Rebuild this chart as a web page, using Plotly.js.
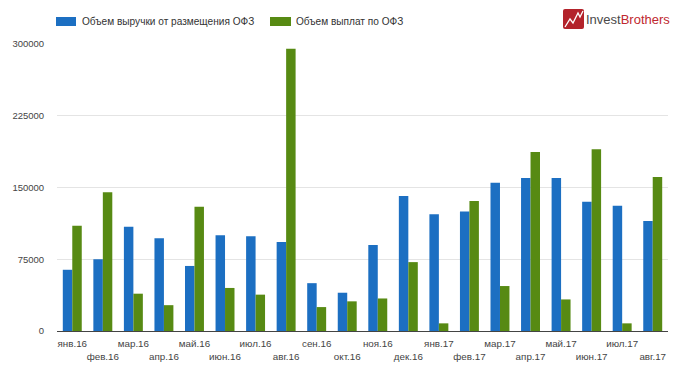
<!DOCTYPE html>
<html>
<head>
<meta charset="utf-8">
<script src="https://cdn.plot.ly/plotly-3.0.1.min.js"></script>
<style>html,body{margin:0;padding:0;background:#fff;}#chart{width:680px;height:373px;}</style>
</head>
<body>
<div id="chart"></div>
<script>
const months = ["янв.16","фев.16","мар.16","апр.16","май.16","июн.16","июл.16","авг.16","сен.16","окт.16","ноя.16","дек.16","янв.17","фев.17","мар.17","апр.17","май.17","июн.17","июл.17","авг.17"];
const revenue = [64000,75000,109000,97000,68000,100000,99000,93000,50000,40000,90000,141000,122000,125000,155000,160000,160000,135000,131000,115000];
const payments = [110000,145000,39000,27000,130000,45000,38000,295000,25000,31000,34000,72000,8000,136000,47000,187000,33000,190000,8000,161000];
const seriesNames = ["Объем выручки от размещения ОФЗ","Объем выплат по ОФЗ"];
const yTicks = [0,75000,150000,225000,300000];

const BLUE = "#1c6fc2", GREEN = "#578a13";
const W = 680, H = 373, L = 57, R = 12, T = 44, B = 42;
const pw = W - L - R, ph = H - T - B;
const px = x => (x - L) / pw;
const py = y => (H - B - y) / ph;

const ticktext = months.map((m, i) => i % 2 === 0 ? m : " <br>" + m);

const traces = [
  {type:"bar", x: months, y: revenue, name: seriesNames[0], marker:{color:BLUE, line:{width:0}}, hoverinfo:"none"},
  {type:"bar", x: months, y: payments, name: seriesNames[1], marker:{color:GREEN, line:{width:0}}, hoverinfo:"none"}
];

const FAM = "Liberation Sans, Arial, sans-serif";

const layout = {
  width: W, height: H,
  margin:{l:L, r:R, t:T, b:B, pad:0},
  paper_bgcolor:"#fff", plot_bgcolor:"#fff",
  showlegend:false,
  barmode:"group", bargap:0.38, bargroupgap:0,
  font:{family:FAM, size:10, color:"#444"},
  xaxis:{type:"category", categoryorder:"array", categoryarray: months, tickmode:"array", tickvals: months, ticktext: ticktext,
    tickangle:0, automargin:false,
    showgrid:false, showline:true, linecolor:"#444", linewidth:1, ticks:"outside", ticklen:3, tickcolor:"rgba(0,0,0,0)",
    tickfont:{family:FAM, size:9.8, color:"#444"}, fixedrange:true, range:[-0.5, 19.5]},
  yaxis:{range:[0,300000], tickmode:"array", tickvals:yTicks, ticktext: yTicks.map(String), showgrid:true, gridcolor:"#e4e4e4", gridwidth:1,
    zeroline:false, showline:false, ticks:"outside", ticklen:10, tickcolor:"rgba(0,0,0,0)", automargin:false,
    tickfont:{family:FAM, size:9.5, color:"#444"}, fixedrange:true},
  shapes:[
    {type:"rect", xref:"paper", yref:"paper", x0:px(56), x1:px(76), y0:py(26), y1:py(17), fillcolor:BLUE, line:{width:0}},
    {type:"rect", xref:"paper", yref:"paper", x0:px(270), x1:px(291), y0:py(26), y1:py(17), fillcolor:GREEN, line:{width:0}},
    {type:"path", xref:"paper", yref:"paper",
      path:`M ${px(565)},${py(9)} L ${px(582)},${py(9)} Q ${px(584)},${py(9)} ${px(584)},${py(11)} L ${px(584)},${py(27)} Q ${px(584)},${py(29)} ${px(582)},${py(29)} L ${px(565)},${py(29)} Q ${px(563)},${py(29)} ${px(563)},${py(27)} L ${px(563)},${py(11)} Q ${px(563)},${py(9)} ${px(565)},${py(9)} Z`,
      fillcolor:"#b3232b", line:{width:0}},
    {type:"path", xref:"paper", yref:"paper",
      path:`M ${px(565)},${py(27)} L ${px(570)},${py(19)} L ${px(573)},${py(23)} L ${px(578)},${py(13)} L ${px(580)},${py(17)} L ${px(583)},${py(11)}`,
      line:{color:"#fff", width:1.3}}
  ],
  annotations:[
    {xref:"paper", yref:"paper", x:px(80), y:py(21.5), xanchor:"left", yanchor:"middle", showarrow:false, text:seriesNames[0], font:{family:FAM, size:10.1, color:"#333"}},
    {xref:"paper", yref:"paper", x:px(294), y:py(21.5), xanchor:"left", yanchor:"middle", showarrow:false, text:seriesNames[1], font:{family:FAM, size:10.1, color:"#333"}},
    {xref:"paper", yref:"paper", x:px(584), y:py(19), xanchor:"left", yanchor:"middle", showarrow:false,
      text:"Invest<span style='color:#c0282f'>Brothers</span>", font:{family:FAM, size:13, color:"#4a4a4a"}}
  ]
};

Plotly.newPlot("chart", traces, layout, {displayModeBar:false, staticPlot:true});
</script>
</body>
</html>
